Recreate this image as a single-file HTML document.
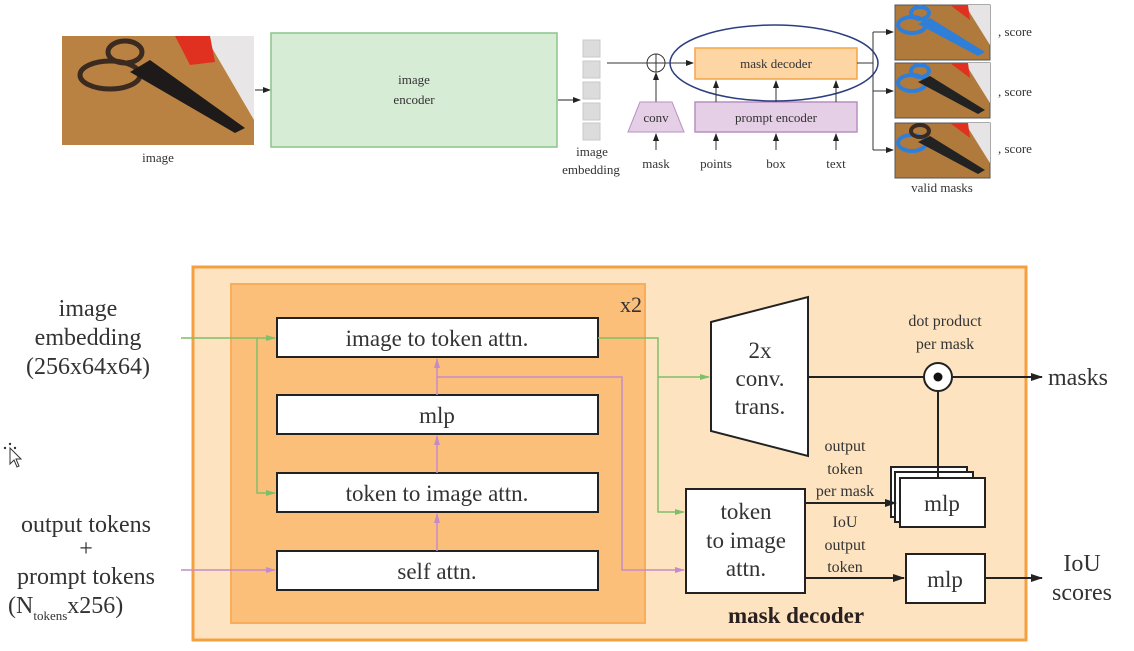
<!DOCTYPE html>
<html><head><meta charset="utf-8"><style>
html,body{margin:0;padding:0;background:#fff}
svg{display:block}
text{font-family:"Liberation Serif",serif;fill:#333}
</style></head><body>
<svg width="1134" height="651" viewBox="0 0 1134 651" xmlns="http://www.w3.org/2000/svg">
<defs>
<marker id="ak" markerWidth="8" markerHeight="8" refX="7" refY="4" orient="auto" markerUnits="userSpaceOnUse"><path d="M0,1 L8,4 L0,7 z" fill="#222"/></marker>
<marker id="ag" markerWidth="10" markerHeight="8" refX="9" refY="4" orient="auto" markerUnits="userSpaceOnUse"><path d="M0,1 L10,4 L0,7 z" fill="#7fbf6a"/></marker>
<marker id="ap" markerWidth="10" markerHeight="8" refX="9" refY="4" orient="auto" markerUnits="userSpaceOnUse"><path d="M0,1 L10,4 L0,7 z" fill="#c48bc9"/></marker>
<marker id="ab" markerWidth="12" markerHeight="10" refX="11" refY="5" orient="auto" markerUnits="userSpaceOnUse"><path d="M0,1 L12,5 L0,9 z" fill="#222"/></marker>
</defs>

<!-- ===== TOP DIAGRAM ===== -->
<g>
<rect x="62" y="36" width="192" height="109" fill="#b07a3c"/>
<rect x="62" y="36" width="192" height="109" fill="#c48a48" opacity="0.5"/>
<polygon points="205,36 254,36 254,120" fill="#e8e6e6"/>
<polygon points="175,36 210,36 215,62 190,65" fill="#e03020"/>
<ellipse cx="110" cy="75" rx="30" ry="14" fill="none" stroke="#3a2a20" stroke-width="5"/>
<ellipse cx="125" cy="52" rx="17" ry="11" fill="none" stroke="#3a2a20" stroke-width="5"/>
<polygon points="130,72 150,60 245,128 235,133" fill="#1f1a1a"/>
</g>
<text x="158" y="162" font-size="13" text-anchor="middle">image</text>
<line x1="255" y1="90" x2="270" y2="90" stroke="#222" stroke-width="1" marker-end="url(#ak)"/>
<rect x="271" y="33" width="286" height="114" fill="#d6ecd5" stroke="#8cc48c" stroke-width="1.5"/>
<text x="414" y="84" font-size="13" text-anchor="middle">image</text>
<text x="414" y="104" font-size="13" text-anchor="middle">encoder</text>
<line x1="558" y1="100" x2="580" y2="100" stroke="#222" stroke-width="1" marker-end="url(#ak)"/>
<g fill="#dcdcdc" stroke="#c8c8c8">
<rect x="583" y="40" width="17" height="17"/><rect x="583" y="61" width="17" height="17"/><rect x="583" y="82" width="17" height="17"/><rect x="583" y="103" width="17" height="17"/><rect x="583" y="123" width="17" height="17"/>
</g>
<text x="592" y="156" font-size="13" text-anchor="middle">image</text>
<text x="591" y="174" font-size="13" text-anchor="middle">embedding</text>
<line x1="607" y1="63" x2="693" y2="63" stroke="#333" stroke-width="1" marker-end="url(#ak)"/>
<circle cx="656" cy="63" r="9" fill="#fff" stroke="#333" stroke-width="1"/>
<line x1="647" y1="63" x2="665" y2="63" stroke="#333"/><line x1="656" y1="54" x2="656" y2="72" stroke="#333"/>
<line x1="656" y1="102" x2="656" y2="73" stroke="#333" marker-end="url(#ak)"/>
<polygon points="640,102 672,102 684,132 628,132" fill="#e5cfe6" stroke="#b98fc0"/>
<text x="656" y="122" font-size="13" text-anchor="middle">conv</text>
<rect x="695" y="48" width="162" height="31" fill="#fdd6a4" stroke="#f4a54a" stroke-width="1.5"/>
<text x="776" y="68" font-size="13" text-anchor="middle">mask decoder</text>
<rect x="695" y="102" width="162" height="30" fill="#e5cfe6" stroke="#b98fc0" stroke-width="1.5"/>
<text x="776" y="122" font-size="13" text-anchor="middle">prompt encoder</text>
<ellipse cx="774" cy="63" rx="104" ry="38" fill="none" stroke="#2c3e80" stroke-width="1.5"/>
<g stroke="#333" stroke-width="1">
<line x1="656" y1="150" x2="656" y2="134" marker-end="url(#ak)"/>
<line x1="716" y1="150" x2="716" y2="134" marker-end="url(#ak)"/>
<line x1="776" y1="150" x2="776" y2="134" marker-end="url(#ak)"/>
<line x1="836" y1="150" x2="836" y2="134" marker-end="url(#ak)"/>
<line x1="716" y1="102" x2="716" y2="81" marker-end="url(#ak)"/>
<line x1="776" y1="102" x2="776" y2="81" marker-end="url(#ak)"/>
<line x1="836" y1="102" x2="836" y2="81" marker-end="url(#ak)"/>
<line x1="857" y1="63" x2="873" y2="63"/>
<line x1="873" y1="32" x2="873" y2="150"/>
<line x1="873" y1="32" x2="893" y2="32" marker-end="url(#ak)"/>
<line x1="873" y1="91" x2="893" y2="91" marker-end="url(#ak)"/>
<line x1="873" y1="150" x2="893" y2="150" marker-end="url(#ak)"/>
</g>
<text x="656" y="168" font-size="13" text-anchor="middle">mask</text>
<text x="716" y="168" font-size="13" text-anchor="middle">points</text>
<text x="776" y="168" font-size="13" text-anchor="middle">box</text>
<text x="836" y="168" font-size="13" text-anchor="middle">text</text>
<g>
<rect x="895" y="5" width="95" height="55" fill="#b07a3c" stroke="#555"/>
<polygon points="965,5 990,5 990,45" fill="#e6e4e4"/><polygon points="950,5 968,5 970,20" fill="#e03020"/>
<ellipse cx="912" cy="25" rx="14" ry="8" fill="none" stroke="#2f7fd8" stroke-width="4"/>
<ellipse cx="920" cy="13" rx="9" ry="6" fill="none" stroke="#2f7fd8" stroke-width="4"/>
<polygon points="918,24 930,18 985,52 978,56" fill="#2f7fd8"/>
</g>
<g>
<rect x="895" y="63" width="95" height="55" fill="#b07a3c" stroke="#555"/>
<polygon points="965,63 990,63 990,103" fill="#e6e4e4"/><polygon points="950,63 968,63 970,78" fill="#e03020"/>
<ellipse cx="912" cy="83" rx="14" ry="8" fill="none" stroke="#2f7fd8" stroke-width="4"/>
<ellipse cx="920" cy="71" rx="9" ry="6" fill="none" stroke="#2f7fd8" stroke-width="4"/>
<polygon points="918,82 930,76 985,110 978,114" fill="#222"/>
</g>
<g>
<rect x="895" y="123" width="95" height="55" fill="#b07a3c" stroke="#555"/>
<polygon points="965,123 990,123 990,163" fill="#e6e4e4"/><polygon points="950,123 968,123 970,138" fill="#e03020"/>
<ellipse cx="912" cy="143" rx="14" ry="8" fill="none" stroke="#2f7fd8" stroke-width="4"/>
<ellipse cx="920" cy="131" rx="9" ry="6" fill="none" stroke="#3a2a20" stroke-width="4"/>
<polygon points="918,142 930,136 985,170 978,174" fill="#222"/>
</g>
<text x="998" y="36" font-size="13">, score</text>
<text x="998" y="96" font-size="13">, score</text>
<text x="998" y="153" font-size="13">, score</text>
<text x="942" y="192" font-size="13" text-anchor="middle">valid masks</text>

<!-- ===== BOTTOM DIAGRAM ===== -->
<rect x="193" y="267" width="833" height="373" fill="#fde3bf" stroke="#f5a040" stroke-width="3"/>
<rect x="231" y="284" width="414" height="339" fill="#fbbf7a" stroke="#f8ad5c" stroke-width="2"/>
<text x="620" y="312" font-size="22">x2</text>

<g fill="#fff" stroke="#222" stroke-width="2">
<rect x="277" y="318" width="321" height="39"/>
<rect x="277" y="395" width="321" height="39"/>
<rect x="277" y="473" width="321" height="39"/>
<rect x="277" y="551" width="321" height="39"/>
</g>
<text x="437" y="346" font-size="23" text-anchor="middle">image to token attn.</text>
<text x="437" y="423" font-size="23" text-anchor="middle">mlp</text>
<text x="437" y="501" font-size="23" text-anchor="middle">token to image attn.</text>
<text x="437" y="579" font-size="23" text-anchor="middle">self attn.</text>

<g stroke="#7fbf6a" stroke-width="1.5" fill="none">
<line x1="181" y1="338" x2="275" y2="338" marker-end="url(#ag)"/>
<polyline points="257,338 257,493 275,493" marker-end="url(#ag)"/>
<polyline points="598,338 658,338 658,512 684,512" marker-end="url(#ag)"/>
<line x1="658" y1="377" x2="709" y2="377" marker-end="url(#ag)"/>
</g>
<g stroke="#c48bc9" stroke-width="1.5" fill="none">
<line x1="181" y1="570" x2="275" y2="570" marker-end="url(#ap)"/>
<line x1="437" y1="551" x2="437" y2="514" marker-end="url(#ap)"/>
<line x1="437" y1="473" x2="437" y2="436" marker-end="url(#ap)"/>
<line x1="437" y1="395" x2="437" y2="359" marker-end="url(#ap)"/>
<polyline points="437,377 622,377 622,570 684,570" marker-end="url(#ap)"/>
</g>

<polygon points="711,322 808,297 808,456 711,431" fill="#fff" stroke="#222" stroke-width="2"/>
<text x="760" y="358" font-size="23" text-anchor="middle">2x</text>
<text x="760" y="386" font-size="23" text-anchor="middle">conv.</text>
<text x="760" y="414" font-size="23" text-anchor="middle">trans.</text>

<text x="945" y="326" font-size="16" text-anchor="middle">dot product</text>
<text x="945" y="349" font-size="16" text-anchor="middle">per mask</text>
<line x1="808" y1="377" x2="924" y2="377" stroke="#222" stroke-width="2"/>
<line x1="952" y1="377" x2="1042" y2="377" stroke="#222" stroke-width="2" marker-end="url(#ab)"/>
<circle cx="938" cy="377" r="14" fill="#fff" stroke="#222" stroke-width="2"/>
<circle cx="938" cy="377" r="4.5" fill="#111"/>
<text x="1048" y="385" font-size="24">masks</text>

<rect x="686" y="489" width="119" height="104" fill="#fff" stroke="#222" stroke-width="2"/>
<text x="746" y="519" font-size="23" text-anchor="middle">token</text>
<text x="746" y="548" font-size="23" text-anchor="middle">to image</text>
<text x="746" y="576" font-size="23" text-anchor="middle">attn.</text>

<text x="845" y="451" font-size="16" text-anchor="middle">output</text>
<text x="845" y="474" font-size="16" text-anchor="middle">token</text>
<text x="845" y="496" font-size="16" text-anchor="middle">per mask</text>
<text x="845" y="527" font-size="16" text-anchor="middle">IoU</text>
<text x="845" y="550" font-size="16" text-anchor="middle">output</text>
<text x="845" y="572" font-size="16" text-anchor="middle">token</text>

<g fill="#fff" stroke="#222" stroke-width="2">
<rect x="891" y="467" width="76" height="50"/>
<rect x="895" y="472" width="78" height="50"/>
<rect x="900" y="478" width="85" height="49"/>
</g>
<line x1="938" y1="391" x2="938" y2="478" stroke="#222" stroke-width="2"/>
<text x="942" y="511" font-size="23" text-anchor="middle">mlp</text>
<line x1="805" y1="503" x2="896" y2="503" stroke="#222" stroke-width="2" marker-end="url(#ab)"/>

<rect x="906" y="554" width="79" height="49" fill="#fff" stroke="#222" stroke-width="2"/>
<text x="945" y="587" font-size="23" text-anchor="middle">mlp</text>
<line x1="805" y1="578" x2="904" y2="578" stroke="#222" stroke-width="2" marker-end="url(#ab)"/>
<line x1="985" y1="578" x2="1042" y2="578" stroke="#222" stroke-width="2" marker-end="url(#ab)"/>
<text x="1082" y="571" font-size="24" text-anchor="middle">IoU</text>
<text x="1082" y="600" font-size="24" text-anchor="middle">scores</text>

<text x="796" y="623" font-size="23" font-weight="bold" text-anchor="middle" style="fill:#2a2020">mask decoder</text>

<text x="88" y="316" font-size="24" text-anchor="middle">image</text>
<text x="88" y="345" font-size="24" text-anchor="middle">embedding</text>
<text x="88" y="374" font-size="24" text-anchor="middle">(256x64x64)</text>
<text x="86" y="532" font-size="24" text-anchor="middle">output tokens</text>
<text x="86" y="556" font-size="24" text-anchor="middle">+</text>
<text x="86" y="584" font-size="24" text-anchor="middle">prompt tokens</text>
<text x="8" y="613" font-size="24">(N<tspan font-size="13" dy="7">tokens</tspan><tspan dy="-7">x256)</tspan></text>

<g transform="translate(8,444)">
<path d="M2,4 L2,20 L6,16 L9,23 L11,22 L8,15 L13,15 z" fill="#fff" stroke="#333" stroke-width="1"/>
<circle cx="2" cy="0" r="1.2" fill="#333"/><circle cx="-3" cy="4" r="1.2" fill="#333"/><circle cx="7" cy="4" r="1.2" fill="#333"/>
</g>
</svg>
</body></html>
